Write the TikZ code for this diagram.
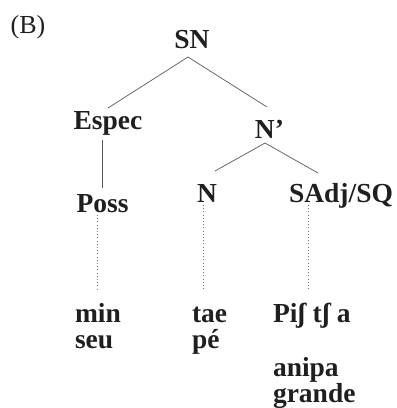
\documentclass[tikz,border=0pt]{standalone}
\usepackage{fontspec}
\setmainfont{Liberation Serif}
\usetikzlibrary{calc}
\begin{document}
\begin{tikzpicture}[x=1pt,y=-1pt,
  lbl/.style={inner sep=0pt,outer sep=0pt,anchor=base,text=black!88,font=\fontsize{27.5}{30}\selectfont\bfseries},
  leaf/.style={lbl,anchor=base west},
  tree/.style={line width=0.7pt,draw=black!65},
  dots/.style={line width=0.9pt,draw=black!55,dash pattern=on 0.8pt off 2.4pt}]
\useasboundingbox (0,0) rectangle (397,408);
\node[inner sep=0pt,anchor=base,text=black!88,font=\fontsize{26}{28}\selectfont] (B) at (28,33) {(B)};
\node[lbl] (SN) at (192,48) {SN};
\node[lbl] (Espec) at (108,129) {Espec};
\node[lbl] (Nbar) at (269.5,138) {N’};
\node[lbl] (Poss) at (102.5,212) {Poss};
\node[lbl] (N) at (207,202) {N};
\node[lbl] (SAdj) at (341,202) {SAdj/SQ};
\node[leaf] (min) at (75,322) {min};
\node[leaf] (seu) at (75,348) {seu};
\node[leaf] (tae) at (192,322) {tae};
\node[leaf] (pe) at (192,348) {pé};
\node[leaf] (pista) at (273,322) {Piʃ tʃ a};
\node[leaf] (anipa) at (273,376) {anipa};
\node[leaf] (grande) at (273,402) {grande};
\draw[tree] ($(SN.base)+(-4,9)$) -- ($(Espec.base)+(0,-21)$);
\draw[tree] ($(SN.base)+(-4,9)$) -- ($(Nbar.base)+(-2.5,-31)$);
\draw[tree] ($(Nbar.base)+(-4.5,5)$) -- ($(N.base)+(8,-31)$);
\draw[tree] ($(Nbar.base)+(-4.5,5)$) -- ($(SAdj.base)+(-23,-29)$);
\draw[tree] ($(Espec.base)+(-6,11)$) -- ($(Poss.base)+(-0.5,-24)$);
\draw[dots] ($(Poss.base)+(-5.5,3)$) -- ($(min.base west)+(22,-32)$);
\draw[dots] ($(N.base)+(-4,3)$) -- ($(tae.base west)+(11,-32)$);
\draw[dots] ($(SAdj.base)+(-33,3)$) -- ($(pista.base west)+(35,-32)$);
\end{tikzpicture}
\end{document}
